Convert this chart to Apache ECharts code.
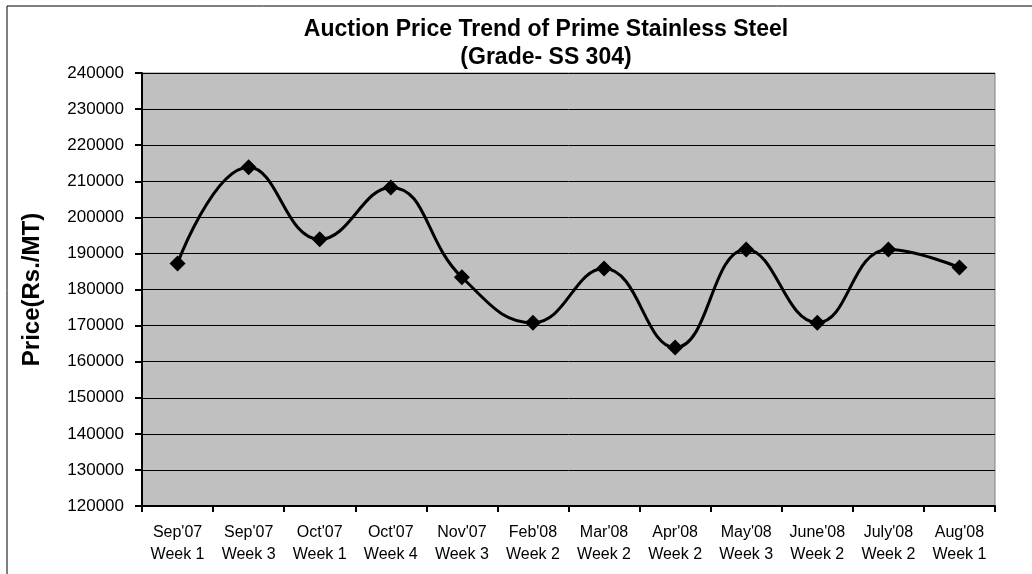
<!DOCTYPE html>
<html>
<head>
<meta charset="utf-8">
<script src="https://cdn.jsdelivr.net/npm/echarts@6/dist/echarts.min.js"></script>
<style>
    html, body { margin: 0; padding: 0; background: #fff; }
    #main { width: 1032px; height: 574px; }
</style>
</head>
<body>
<div id="main"></div>
<script>
// data
var months = ["Sep'07", "Sep'07", "Oct'07", "Oct'07", "Nov'07", "Feb'08", "Mar'08", "Apr'08", "May'08", "June'08", "July'08", "Aug'08"];
var weeks = ['Week 1', 'Week 3', 'Week 1', 'Week 4', 'Week 3', 'Week 2', 'Week 2', 'Week 2', 'Week 3', 'Week 2', 'Week 2', 'Week 1'];
var prices = [187200, 213900, 193900, 208300, 183400, 170800, 185800, 163900, 191100, 170800, 191100, 186100];
var yTicks = { min: 120000, max: 240000, step: 10000 };

var FONT = 'Arial, "Liberation Sans", sans-serif';
var categories = months.map(function (m, i) { return m + '\n' + weeks[i]; });

var dom = document.getElementById('main');
var myChart = echarts.init(dom);

var option = {
    backgroundColor: '#fff',
    animation: false,
    title: {
        text: 'Auction Price Trend of Prime Stainless Steel\n(Grade- SS 304)',
        left: 541,
        top: 11,
        textAlign: 'center',
        textStyle: {
            color: '#000',
            fontFamily: FONT,
            fontWeight: 'bold',
            fontSize: 23,
            lineHeight: 28
        }
    },
    graphic: [{
        // outer chart frame
        type: 'rect',
        silent: true,
        shape: { x: 7, y: 6, width: 1040, height: 580 },
        style: { fill: 'none', stroke: '#000', lineWidth: 1 }
    }],
    grid: {
        left: 142,
        right: 37,
        top: 73,
        bottom: 68,
        show: true,
        backgroundColor: '#c0c0c0',
        borderColor: '#808080',
        borderWidth: 1
    },
    xAxis: {
        type: 'category',
        boundaryGap: true,
        data: categories,
        axisLine: { lineStyle: { color: '#000', width: 2 } },
        axisTick: { show: true, length: 6, lineStyle: { color: '#000', width: 2 } },
        axisLabel: {
            interval: 0,
            color: '#000',
            fontFamily: FONT,
            fontSize: 16,
            lineHeight: 22,
            margin: 16
        },
        splitLine: { show: false }
    },
    yAxis: {
        type: 'value',
        min: yTicks.min,
        max: yTicks.max,
        interval: yTicks.step,
        name: 'Price(Rs./MT)',
        nameLocation: 'middle',
        nameGap: 98,
        nameTextStyle: {
            color: '#000',
            fontFamily: FONT,
            fontWeight: 'bold',
            fontSize: 24
        },
        axisLine: { show: true, lineStyle: { color: '#000', width: 2 } },
        axisTick: { show: true, length: 7, lineStyle: { color: '#000', width: 2 } },
        axisLabel: {
            color: '#000',
            fontFamily: FONT,
            fontSize: 17,
            margin: 18,
            formatter: function (v) { return String(v); }
        },
        splitLine: { show: true, lineStyle: { color: '#000', width: 1 } }
    },
    series: [{
        name: 'Price',
        type: 'line',
        data: prices,
        smooth: 0.45,
        symbol: 'diamond',
        symbolSize: 16,
        itemStyle: { color: '#000' },
        lineStyle: { color: '#000', width: 3 }
    }]
};

myChart.setOption(option);
</script>
</body>
</html>
